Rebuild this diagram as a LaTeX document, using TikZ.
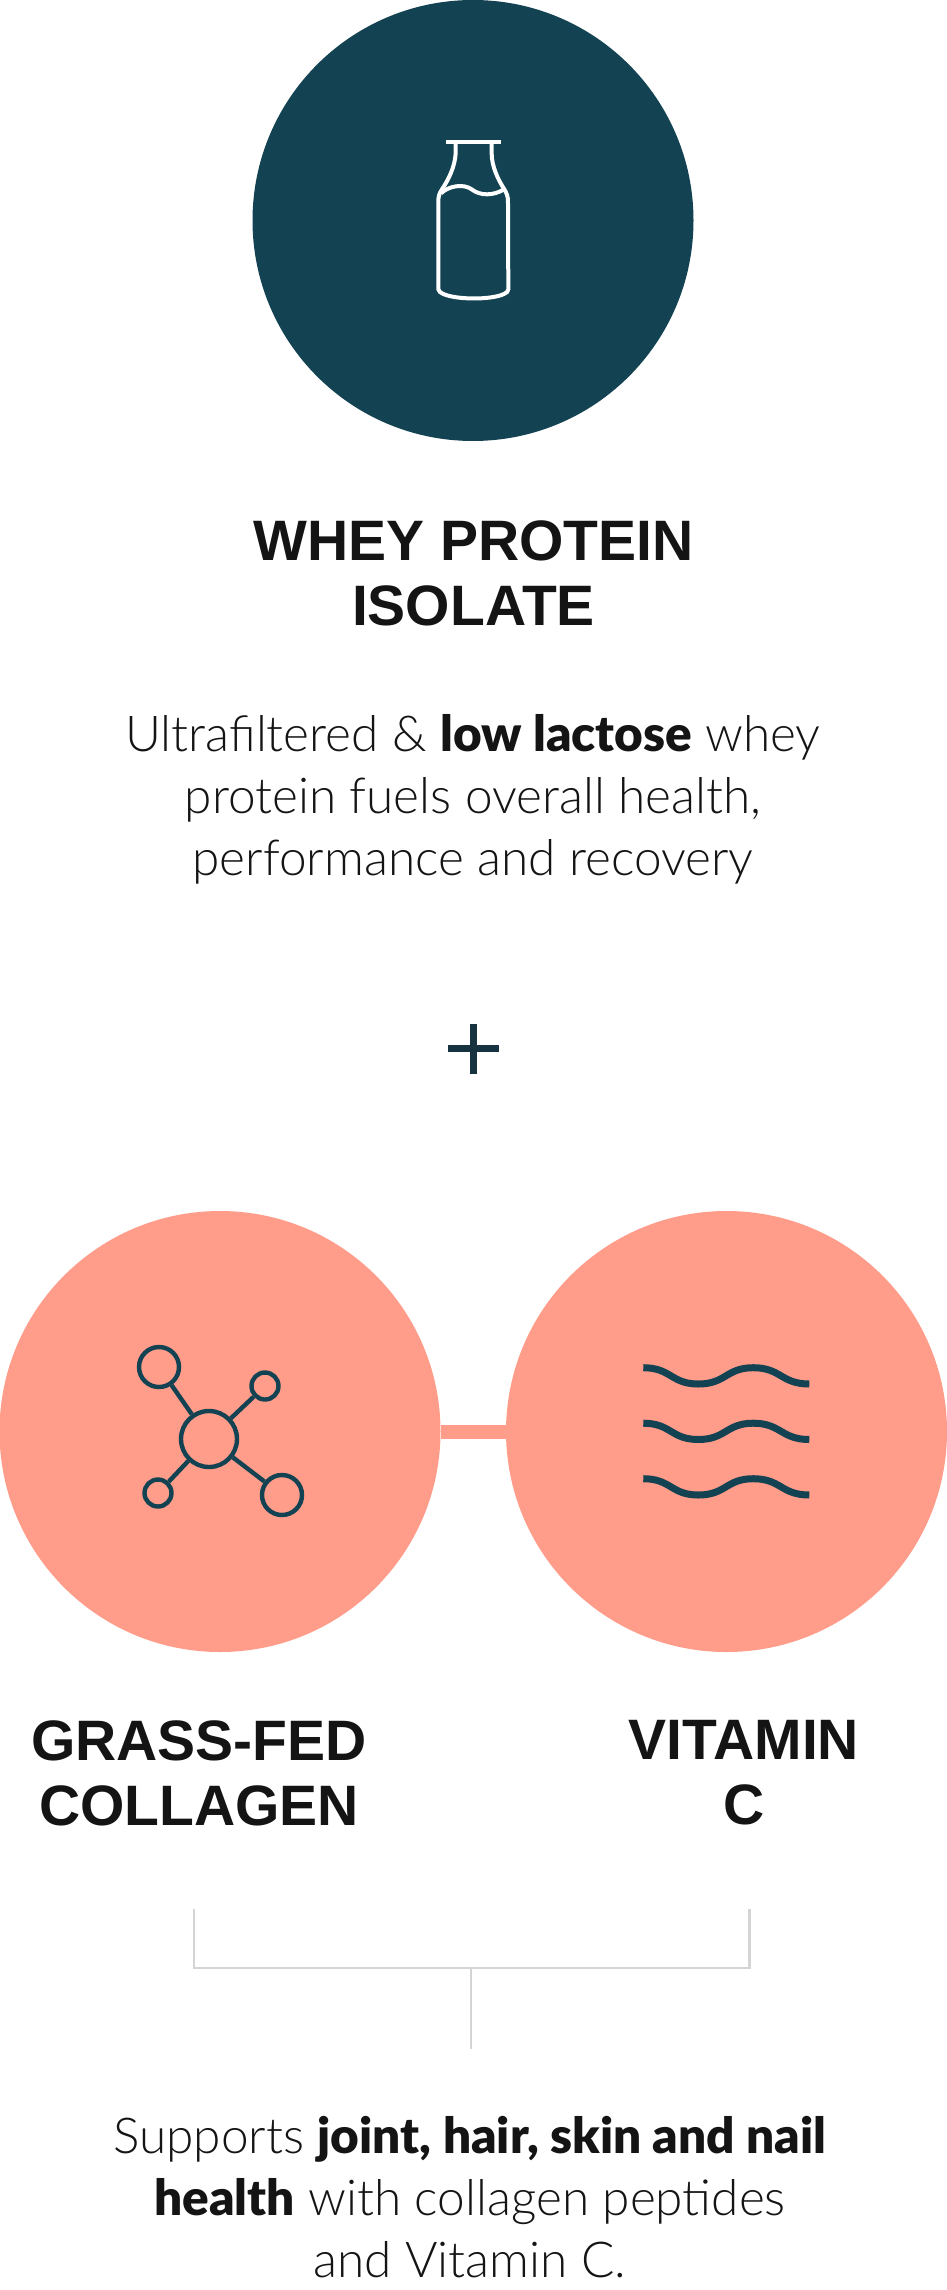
\documentclass[tikz,border=0pt]{standalone}
\usepackage{fontspec}
\setmainfont{Liberation Sans}
\newfontfamily\lightfont[BoldFont={Lato Black}]{Lato Light}
\definecolor{DarkTeal}{HTML}{134252}
\definecolor{PlusInk}{HTML}{17333F}
\definecolor{Coral}{HTML}{FF9C8A}
\definecolor{RuleGray}{HTML}{D4D4D4}
\definecolor{InkBlack}{HTML}{141414}
\tikzset{
  disc/.style={circle,inner sep=0pt,minimum size=#1},
  atom/.style={circle,draw=DarkTeal,line width=4.4pt,inner sep=0pt,minimum size=#1},
  bond/.style={draw=DarkTeal,line width=4.4pt},
  heading/.style={align=center,inner sep=0pt,text=InkBlack,font=\fontsize{57}{65}\selectfont\bfseries},
  body/.style={align=center,inner sep=0pt,text=InkBlack,font=\fontsize{49.5}{62}\selectfont\lightfont}
}
\begin{document}
\begin{tikzpicture}[x=1pt,y=-1pt]
\useasboundingbox (0,0) rectangle (947,2290);
% top circle and bottle
\node[disc=441pt,fill=DarkTeal] (whey) at (473,220.5) {};
\begin{scope}[shift={(380,110)},x=.3333pt,y=-.3333pt,white,line width=4pt]
\draw (198,97) -- (362,97);
\draw (227,97) -- (227,130) .. controls (225,170) and (205,210) .. (186,238) .. controls (178,250) and (175,258) .. (175,275) -- (175,538) .. controls (176,545) and (182,548) .. (190,552) .. controls (230,570) and (335,570) .. (372,552) .. controls (380,548) and (385,545) .. (385,538) -- (384,275) .. controls (384,258) and (380,250) .. (373,238) .. controls (355,210) and (335,170) .. (335,130) -- (335,97);
\draw (183,250) .. controls (205,228) and (250,220) .. (275,238) .. controls (300,258) and (340,258) .. (372,238);
\end{scope}
\node[heading] (wheyname) at (473.5,573) {WHEY PROTEIN\\ISOLATE};
\node[body] (wheytext) at (473,799) {Ultrafiltered \& {\bfseries low lactose} whey\\protein fuels overall health,\\performance and recovery};
% plus
\coordinate (plusw) at (448.3,1048.7);
\coordinate (pluse) at (498.7,1048.7);
\coordinate (plusn) at (473.3,1024);
\coordinate (pluss) at (473.3,1074);
\draw[PlusInk,line width=7.3pt] (plusw) -- (pluse);
\draw[PlusInk,line width=7.3pt] (plusn) -- (pluss);
% lower circles
\node[disc=441pt,fill=Coral] (collagen) at (220,1431.5) {};
\node[disc=441pt,fill=Coral] (vitamin) at (726.5,1431.5) {};
\draw[Coral,line width=14pt] (collagen) -- (vitamin);
% molecule
\node[atom=56pt] (hub) at (209,1439) {};
\node[atom=40pt] (atoma) at (159,1367) {};
\node[atom=27pt] (atomb) at (265,1386) {};
\node[atom=27pt] (atomc) at (158,1493) {};
\node[atom=40pt] (atomd) at (282,1495) {};
\foreach \a in {atoma,atomb,atomc,atomd}
  \draw[bond] (hub) -- (\a);
% waves
\foreach \wy in {0,55.5,111}
  \draw[DarkTeal,line width=7pt] (643.3,1367.7+\wy) .. controls (671,1367.7+\wy) and (671,1384+\wy) .. (698.3,1384+\wy) .. controls (726,1384+\wy) and (726,1367.7+\wy) .. (753.3,1367.7+\wy) .. controls (781,1367.7+\wy) and (781,1384+\wy) .. (809.3,1384+\wy);
\node[heading] (collagenname) at (199,1773) {GRASS-FED\\COLLAGEN};
\node[heading] (vitaminname) at (744,1773) {VITAMIN\\C};
% bracket
\coordinate (bl) at (194,1909);
\coordinate (br) at (749.5,1909);
\coordinate (joint) at (471,1968);
\coordinate (stem) at (471,2049);
\draw[RuleGray,line width=2.7pt] (bl) |- (joint) -| (br);
\draw[RuleGray,line width=2.7pt] (joint) -- (stem);
\node[body] (supports) at (470,2197) {Supports {\bfseries joint, hair, skin and nail}\\{\bfseries health} with collagen peptides\\and Vitamin C.};
\end{tikzpicture}
\end{document}
